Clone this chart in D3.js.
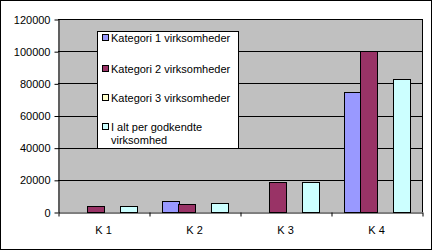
<!DOCTYPE html>
<html>
<head>
<meta charset="UTF-8">
<style>
  body { margin: 0; padding: 0; background: #fff; }
  svg { display: block; font-family: Arial, "Liberation Sans", sans-serif; }
</style>
</head>
<body>
<div id="chart"></div>
<script src="https://cdn.jsdelivr.net/npm/d3@7"></script>
<script>
// data
const categories = ['K 1', 'K 2', 'K 3', 'K 4'];
const seriesNames = ['Kategori 1 virksomheder', 'Kategori 2 virksomheder', 'Kategori 3 virksomheder', 'I alt per godkendte virksomhed'];
const kat1 = [0, 6700, 0, 74500];
const kat2 = [3800, 5000, 18500, 100000];
const kat3 = [0, 0, 0, 0];
const iAlt = [3800, 5600, 18500, 82500];
const yTicks = [0, 20000, 40000, 60000, 80000, 100000, 120000];

const colors = ['#9999ff', '#993366', '#ffffcc', '#ccffff'];
const series = [kat1, kat2, kat3, iAlt];

const W = 432, H = 250;
const padL = 58, padR = 422, padT = 19, padB = 212;

const svg = d3.select('#chart').append('svg').attr('width', W).attr('height', H);

// outer frame
svg.append('rect').attr('x', 0.5).attr('y', 0.5).attr('width', W - 1).attr('height', H - 1)
  .attr('fill', '#fff').attr('stroke', '#000');

// plot area
svg.append('rect').attr('x', padL).attr('y', padT).attr('width', padR - padL).attr('height', padB - padT)
  .attr('fill', '#c0c0c0');

const y = d3.scaleLinear().domain([0, 120000]).range([padB, padT]);
const x0 = d3.scaleBand().domain(categories).range([padL, padR]).paddingInner(0).paddingOuter(0);
const x1 = d3.scaleBand().domain(d3.range(4)).range([12.5, x0.bandwidth() - 12.5]).padding(0);

// gridlines
svg.append('g').selectAll('line').data(yTicks.slice(1)).enter().append('line')
  .attr('x1', padL).attr('x2', padR)
  .attr('y1', d => Math.round(y(d)) + 0.5).attr('y2', d => Math.round(y(d)) + 0.5)
  .attr('stroke', '#000');

// right border of plot
svg.append('line').attr('x1', padR + 0.5).attr('x2', padR + 0.5).attr('y1', padT).attr('y2', padB)
  .attr('stroke', '#000');

// bars
categories.forEach((c, ci) => {
  series.forEach((s, si) => {
    if (s[ci] <= 0) return;
    const yt = Math.round(y(s[ci]));
    svg.append('rect')
      .attr('x', Math.round(x0(c) + x1(si)) + 0.5)
      .attr('y', yt + 0.5)
      .attr('width', Math.round(x1.bandwidth()))
      .attr('height', padB - yt)
      .attr('fill', colors[si]).attr('stroke', '#000');
  });
});

// y axis
const yAxis = d3.axisLeft(y).tickValues(yTicks).tickSize(4).tickSizeOuter(0).tickFormat(d3.format('d'));
const gy = svg.append('g').attr('transform', `translate(${padL + 0.5},0.5)`).call(yAxis);
gy.selectAll('text').attr('font-size', 11).attr('fill', '#000').attr('x', -8);
gy.selectAll('line').attr('stroke', '#000');
gy.select('.domain').attr('stroke', '#000');

// x axis
const xAxis = d3.axisBottom(d3.scaleLinear().domain([0, 4]).range([padL, padR]))
  .tickValues([0, 1, 2, 3, 4]).tickSize(4).tickSizeOuter(0).tickFormat('');
const gx = svg.append('g').attr('transform', `translate(0.5,${padB + 0.5})`).call(xAxis);
gx.selectAll('line').attr('stroke', '#000');
gx.select('.domain').attr('stroke', '#000');
svg.append('g').selectAll('text').data(categories).enter().append('text')
  .attr('x', d => x0(d) + x0.bandwidth() / 2)
  .attr('y', 234)
  .attr('text-anchor', 'middle').attr('font-size', 11).text(d => d);

// legend
const lg = svg.append('g');
lg.append('rect').attr('x', 97.5).attr('y', 31.5).attr('width', 141).attr('height', 117)
  .attr('fill', '#fff').attr('stroke', '#000');
const rowY = [38, 69, 98, 127];
seriesNames.forEach((n, i) => {
  lg.append('rect').attr('x', 102.5).attr('y', rowY[i] - 3.5).attr('width', 6).attr('height', 6)
    .attr('fill', colors[i]).attr('stroke', '#000');
  const t = lg.append('text').attr('x', 111).attr('y', rowY[i] + 4).attr('font-size', 11);
  if (i === 3) {
    t.text('I alt per godkendte');
    lg.append('text').attr('x', 111).attr('y', rowY[i] + 17).attr('font-size', 11).text('virksomhed');
  } else {
    t.text(n);
  }
});
</script>
</body>
</html>
